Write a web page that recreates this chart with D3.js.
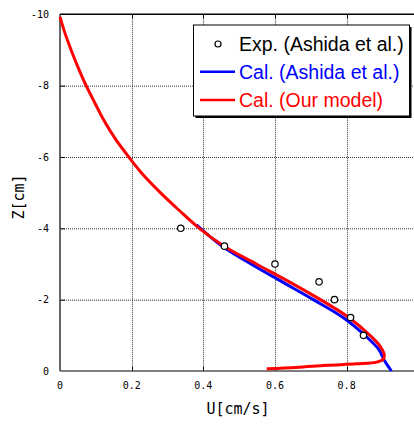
<!DOCTYPE html>
<html><head><meta charset="utf-8">
<script src="https://cdn.jsdelivr.net/npm/d3@7"></script>
<style>html,body{margin:0;padding:0;background:#fff;}svg{display:block;}</style>
</head><body>
<svg id="c" width="414" height="424"></svg>
<script>
const xTicks = [0, 0.2, 0.4, 0.6, 0.8];
const yTicks = [0, -2, -4, -6, -8, -10];
const expU = [0.337, 0.459, 0.600, 0.723, 0.766, 0.811, 0.847];
const expZ = [-4.0, -3.5, -3.0, -2.5, -2.0, -1.5, -1.0];
const ashidaU = [0.381, 0.452, 0.533, 0.62, 0.707, 0.79, 0.851, 0.89, 0.905, 0.925];
const ashidaZ = [-4.1, -3.5, -3.0, -2.5, -2.0, -1.5, -1.0, -0.6, -0.3, 0.0];
const ourU = [0, 0.013, 0.031, 0.051, 0.073, 0.098, 0.124, 0.155, 0.192, 0.232, 0.28, 0.333, 0.389, 0.458, 0.548, 0.64, 0.727, 0.806, 0.865, 0.893, 0.905, 0.902, 0.884, 0.828, 0.744, 0.66, 0.577];
const ourZ = [-9.93, -9.5, -9.0, -8.5, -8.0, -7.5, -7.0, -6.5, -6.0, -5.5, -5.0, -4.5, -4.0, -3.5, -3.0, -2.5, -2.0, -1.5, -1.0, -0.7, -0.45, -0.33, -0.25, -0.2, -0.16, -0.10, -0.065];
const legendLabels = ["Exp. (Ashida et al.)", "Cal. (Ashida et al.)", "Cal. (Our model)"];
const legendColors = ["#000", "#0000ff", "#ff0000"];

const svg = d3.select("#c");
const x = d3.scaleLinear().domain([0, 1]).range([60, 418.3]);
const y = d3.scaleLinear().domain([0, -10]).range([371, 14.3]);
const mono = "'DejaVu Sans Mono', 'Liberation Mono', monospace";

// gridlines
svg.append("g").selectAll("line").data(yTicks.filter(d => d !== 0 && d !== -10)).join("line")
  .attr("x1", x(0)).attr("x2", 414).attr("y1", d => y(d) + 0.5).attr("y2", d => y(d) + 0.5)
  .attr("stroke", "#333").attr("stroke-width", 1).attr("stroke-dasharray", "1,1");
svg.append("g").selectAll("line").data(xTicks.filter(d => d !== 0)).join("line")
  .attr("x1", d => Math.round(x(d)) + 0.5).attr("x2", d => Math.round(x(d)) + 0.5).attr("y1", y(-10)).attr("y2", y(0))
  .attr("stroke", "#333").attr("stroke-width", 1).attr("stroke-dasharray", "1,1");

// inward ticks
svg.append("g").selectAll("line").data(yTicks.filter(d => d !== 0 && d !== -10)).join("line")
  .attr("x1", x(0)).attr("x2", x(0) + 5).attr("y1", d => y(d) + 0.5).attr("y2", d => y(d) + 0.5)
  .attr("stroke", "#000").attr("stroke-width", 1);
svg.append("g").selectAll("line").data(xTicks.filter(d => d !== 0)).join("line")
  .attr("x1", d => Math.round(x(d)) + 0.5).attr("x2", d => Math.round(x(d)) + 0.5).attr("y1", y(0)).attr("y2", y(0) - 4)
  .attr("stroke", "#000").attr("stroke-width", 1);
svg.append("g").selectAll("line").data(xTicks.filter(d => d !== 0)).join("line")
  .attr("x1", d => Math.round(x(d)) + 0.5).attr("x2", d => Math.round(x(d)) + 0.5).attr("y1", y(-10)).attr("y2", y(-10) + 4)
  .attr("stroke", "#000").attr("stroke-width", 1);

// frame
svg.append("line").attr("x1", x(0)).attr("x2", 414).attr("y1", y(-10)).attr("y2", y(-10)).attr("stroke", "#000").attr("stroke-width", 1.5);
svg.append("line").attr("x1", x(0)).attr("x2", x(0)).attr("y1", y(-10)).attr("y2", y(0)).attr("stroke", "#333").attr("stroke-width", 1.5);
svg.append("line").attr("x1", x(0)).attr("x2", 414).attr("y1", y(0)).attr("y2", y(0)).attr("stroke", "#555").attr("stroke-width", 1.5);

// tick labels
svg.append("g").selectAll("text").data(xTicks).join("text")
  .attr("x", d => x(d)).attr("y", 389).attr("text-anchor", "middle")
  .attr("font-family", mono).attr("font-size", 10).attr("fill", "#000")
  .text(d => d === 0 ? "0" : d3.format(".1f")(d));
svg.append("g").selectAll("text").data(yTicks).join("text")
  .attr("x", 49).attr("y", d => y(d) + 3.6).attr("text-anchor", "end")
  .attr("font-family", mono).attr("font-size", 10).attr("fill", "#000")
  .text(d => d);

// axis titles
svg.append("text").attr("x", 238).attr("y", 414).attr("text-anchor", "middle")
  .attr("font-family", mono).attr("font-size", 15).attr("fill", "#000").text("U[cm/s]");
svg.append("text").attr("transform", "translate(24,197) rotate(-90)").attr("text-anchor", "middle")
  .attr("font-family", mono).attr("font-size", 15).attr("fill", "#000").text("Z[cm]");

// curves
const line = d3.line().x(d => x(d[0])).y(d => y(d[1])).curve(d3.curveCatmullRom.alpha(0.5));
svg.append("path").datum(ashidaU.map((u, i) => [u, ashidaZ[i]]))
  .attr("d", line).attr("fill", "none").attr("stroke", "#0000ff").attr("stroke-width", 3);
svg.append("path").datum(ourU.map((u, i) => [u, ourZ[i]]))
  .attr("d", line).attr("fill", "none").attr("stroke", "#ff0000").attr("stroke-width", 3);

// experimental points
svg.append("g").selectAll("circle").data(expU.map((u, i) => [u, expZ[i]])).join("circle")
  .attr("cx", d => x(d[0])).attr("cy", d => y(d[1])).attr("r", 3.2)
  .attr("fill", "#fff").attr("stroke", "#000").attr("stroke-width", 1.2);

// legend
const lg = svg.append("g");
lg.append("rect").attr("x", 195.5).attr("y", 27).attr("width", 216).attr("height", 91).attr("fill", "#000");
lg.append("rect").attr("x", 193.5).attr("y", 25).attr("width", 216).attr("height", 91)
  .attr("fill", "#fff").attr("stroke", "#000").attr("stroke-width", 1);
legendLabels.forEach((t, i) => {
  const by = 51 + i * 28.2;
  lg.append("text").attr("x", 239).attr("y", by).attr("font-family", "'Liberation Sans', Arial, sans-serif")
    .attr("font-size", 19.5).attr("fill", legendColors[i]).text(t);
  if (i === 0) {
    lg.append("circle").attr("cx", 218).attr("cy", by - 7).attr("r", 3).attr("fill", "#fff").attr("stroke", "#000").attr("stroke-width", 1.2);
  } else {
    lg.append("line").attr("x1", 200).attr("x2", 235).attr("y1", by - 7.5).attr("y2", by - 7.5)
      .attr("stroke", legendColors[i]).attr("stroke-width", 2.5);
  }
});
</script>
</body></html>
